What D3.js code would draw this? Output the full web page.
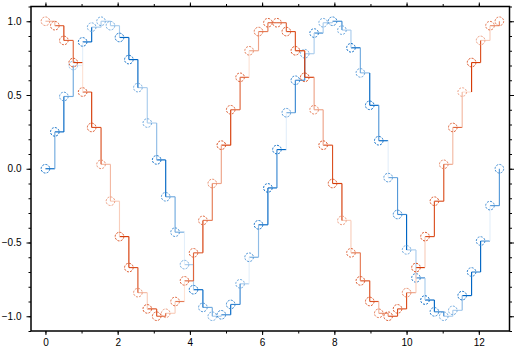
<!DOCTYPE html>
<html>
<head>
<meta charset="utf-8">
<script src="https://cdn.jsdelivr.net/npm/d3@7"></script>
<style>
  body { margin: 0; background: #fff; }
  svg text { font-family: "Liberation Sans", Arial, sans-serif; font-size: 10px; fill: #000; }
</style>
</head>
<body>
<div id="wrapper"></div>
<script>
// sample positions (x)
const xs = [0.00,0.26,0.51,0.77,1.03,1.28,1.54,1.80,2.05,2.31,2.56,2.82,3.08,3.33,3.59,3.85,4.10,4.36,4.62,4.87,
            5.13,5.39,5.64,5.90,6.16,6.41,6.67,6.92,7.18,7.44,7.69,7.95,8.21,8.46,8.72,8.98,9.23,9.49,9.75,10.00,
            10.26,10.51,10.77,11.03,11.28,11.54,11.80,12.05,12.31,12.57];

// blue series
const blueVals = [0.00,0.25,0.49,0.70,0.86,0.96,1.00,0.97,0.89,0.74,0.55,0.31,0.06,-0.19,-0.43,-0.65,-0.82,-0.94,-1.00,-0.99,
                  -0.92,-0.78,-0.60,-0.38,-0.13,0.13,0.38,0.60,0.78,0.92,0.99,1.00,0.94,0.82,0.65,0.43,0.19,-0.06,-0.31,-0.55,
                  -0.74,-0.89,-0.97,-1.00,-0.96,-0.86,-0.70,-0.49,-0.25,0.00];
// red series
const redVals = [1.00,0.97,0.87,0.72,0.52,0.28,0.03,-0.22,-0.46,-0.67,-0.84,-0.95,-1.00,-0.98,-0.90,-0.76,-0.57,-0.35,-0.10,0.16,
                 0.40,0.62,0.80,0.93,0.99,0.99,0.93,0.80,0.62,0.40,0.16,-0.10,-0.35,-0.57,-0.76,-0.90,-0.98,-1.00,-0.95,-0.84,
                 -0.67,-0.46,-0.22,0.03,0.28,0.52,0.72,0.87,0.97,1.00];

// colour level (0 pale .. 4 dark) of each step: horizontal part and vertical part
const blueH = [4,4,2,0,4,1,1,1,4,4,1,1,4,2,2,1,4,2,1,3,3,1,2,4,4,4,2,3,1,3,1,3,1,4,1.5,4,4,2,3,1,3,4,3,1,1,4,3,2.5,2.5];
const blueV = [2,4,2,0,4,1,1,1,4,4,1,1.5,4,2,0,1,4,2,1,4,3,0,1.5,4,3,0,3,3,1,1,1,3,1,2,4,2.5,0,2.5,4,1,1,4,3,1,1.5,4,4,0,2.5];
const redH = [1,3,3,4,3,3.5,1,0.5,4,3.5,1,3.5,3,0.5,2.5,3,3,2.5,1.5,4,3,3,1.5,2.5,3,3,3.5,4,4,1.5,3.5,4,0.5,2.5,3.5,3.5,2,3.5,3.5,1.5,4,3.5,3.5,1.5,3,0,4,0.5,2];
const redV = [1,4,3,0,4,3.5,1,0.5,4,3.5,0.5,3.5,3,0.5,0,3,4,2.5,1.5,4,3,0,1.5,2.5,3,3,3.5,4,1.5,1.5,3.5,4,0.5,2.5,3.5,1,2,3.5,3.5,0.5,0.5,3.5,3.5,1,1,4,3.5,0.5,2];

const xMajor = [0,2,4,6,8,10,12];
const yMajor = [-1.0,-0.5,0.0,0.5,1.0];

var dimension = {
    width: 516,
    height: 350,
    margin: { top: 6.5, left: 31, bottom: 19, right: 6.5 }
};
dimension.boundedWidth = dimension.width - dimension.margin.left - dimension.margin.right;
dimension.boundedHeight = dimension.height - dimension.margin.top - dimension.margin.bottom;

const svg = d3.select("#wrapper").append("svg")
    .attr("width", dimension.width)
    .attr("height", dimension.height);

const bounded = svg.append("g")
    .attr("transform", `translate(${dimension.margin.left},${dimension.margin.top})`);

const scaleX = d3.scaleLinear()
    .domain([-0.4, 12.85])
    .range([0, dimension.boundedWidth]);

const scaleY = d3.scaleLinear()
    .domain([-1.1, 1.1])
    .range([dimension.boundedHeight, 0]);

const blueColor = d3.scaleLinear().domain([0, 4]).range(["#e4effa", "#0066c4"]);
const redColor = d3.scaleLinear().domain([0, 4]).range(["#fde3d6", "#d63c08"]);

function drawSeries(vals, hLev, vLev, color) {
    const g = bounded.append("g");
    const steps = d3.range(vals.length - 1);
    // horizontal part first, then vertical
    g.selectAll(".h").data(steps).join("line")
        .attr("x1", i => scaleX(xs[i]))
        .attr("x2", i => scaleX(xs[i + 1]))
        .attr("y1", i => scaleY(vals[i]))
        .attr("y2", i => scaleY(vals[i]))
        .attr("stroke", i => color(hLev[i]))
        .attr("stroke-width", 1.15);
    g.selectAll(".v").data(steps).join("line")
        .attr("x1", i => scaleX(xs[i + 1]))
        .attr("x2", i => scaleX(xs[i + 1]))
        .attr("y1", i => scaleY(vals[i]))
        .attr("y2", i => scaleY(vals[i + 1]))
        .attr("stroke", i => color(vLev[i]))
        .attr("stroke-width", 1.15);
    g.selectAll("circle").data(vals).join("circle")
        .attr("cx", (d, i) => scaleX(xs[i]))
        .attr("cy", d => scaleY(d))
        .attr("r", 4.3)
        .attr("fill", "none")
        .attr("stroke", (d, i) => color(1.5 + 0.55 * (i < hLev.length ? hLev[i] : vLev[i - 1])))
        .attr("stroke-width", 1)
        .attr("stroke-dasharray", "2,1.3");
}

drawSeries(blueVals, blueH, blueV, blueColor);
drawSeries(redVals, redH, redV, redColor);

// axes: minor ticks, then labelled major ticks, on all four sides
const fmtY = d3.format(".1f");
function addAxis(axis, transform) {
    const a = bounded.append("g").attr("transform", transform).call(axis);
    a.select(".domain").remove();
    a.selectAll("line").attr("stroke", "#000").attr("stroke-width", 1);
    return a;
}
const xMinor = d3.range(0, 13);
const yMinor = d3.range(-11, 12).map(d => d / 10);

addAxis(d3.axisBottom(scaleX).tickValues(xMinor).tickSize(2.5).tickFormat(""), `translate(0,${dimension.boundedHeight})`);
addAxis(d3.axisTop(scaleX).tickValues(xMinor).tickSize(2.5).tickFormat(""), "translate(0,0)");
addAxis(d3.axisLeft(scaleY).tickValues(yMinor).tickSize(2.5).tickFormat(""), "translate(0,0)");
addAxis(d3.axisRight(scaleY).tickValues(yMinor).tickSize(2.5).tickFormat(""), `translate(${dimension.boundedWidth},0)`);

addAxis(d3.axisBottom(scaleX).tickValues(xMajor).tickSize(4).tickPadding(4).tickFormat(d3.format("d")), `translate(0,${dimension.boundedHeight})`)
    .selectAll("text").style("font-size", "10px");
addAxis(d3.axisTop(scaleX).tickValues(xMajor).tickSize(4).tickFormat(""), "translate(0,0)");
addAxis(d3.axisLeft(scaleY).tickValues(yMajor).tickSize(4.5).tickPadding(5).tickFormat(fmtY), "translate(0,0)")
    .selectAll("text").style("font-size", "10px");
addAxis(d3.axisRight(scaleY).tickValues(yMajor).tickSize(4.5).tickFormat(""), `translate(${dimension.boundedWidth},0)`);

// frame
bounded.append("rect")
    .attr("width", dimension.boundedWidth)
    .attr("height", dimension.boundedHeight)
    .attr("fill", "none")
    .attr("stroke", "#000")
    .attr("stroke-width", 1.5);
</script>
</body>
</html>
